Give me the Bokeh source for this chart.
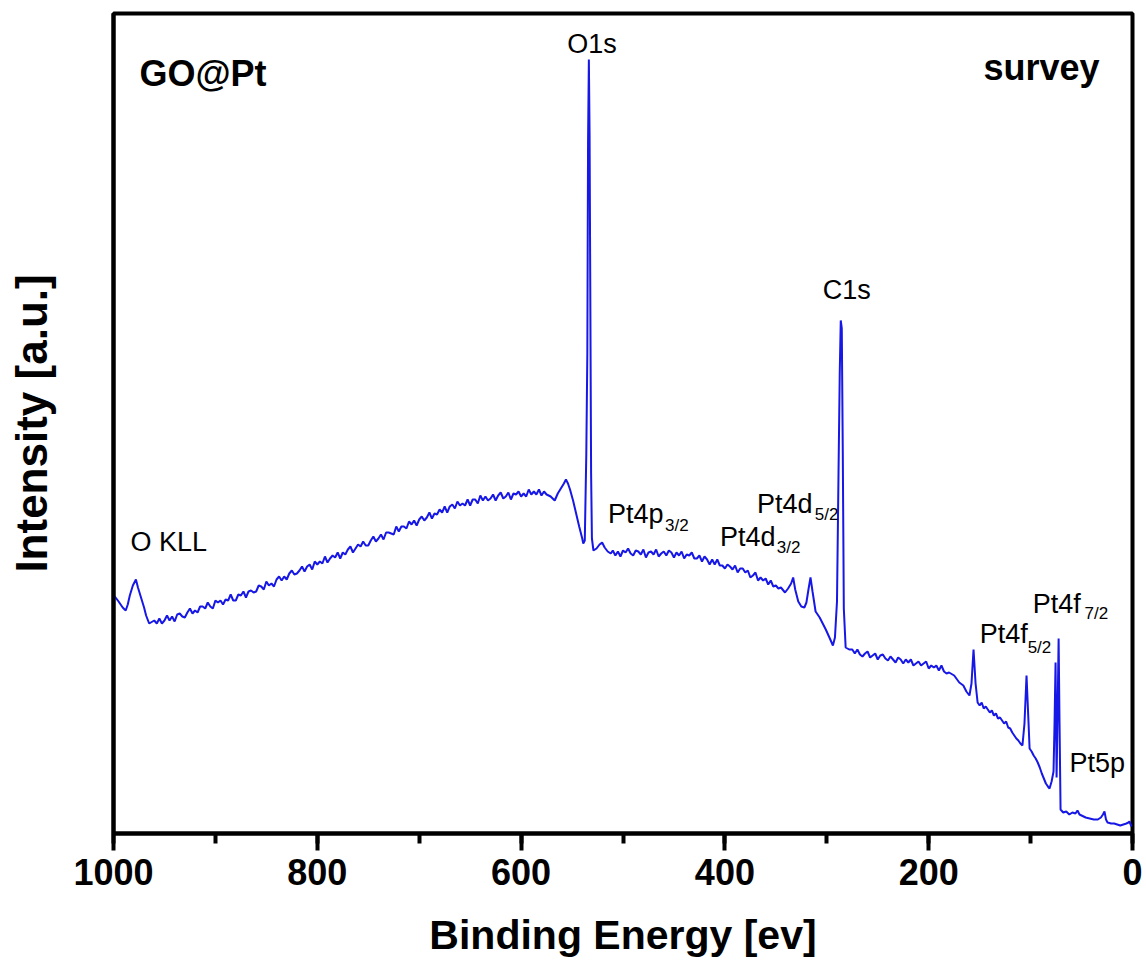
from bokeh.plotting import figure
from bokeh.models import Range1d, SingleIntervalTicker, FixedTicker, Label
from bokeh.embed import file_html
from bokeh.resources import INLINE

# ---- XPS survey spectrum of GO@Pt (binding energy eV, intensity a.u.) ----
be_okll = [1000, 998, 995, 993, 991, 988, 986, 984, 981, 978, 976, 973, 970, 968, 965]
i_okll = [238, 236, 232, 229, 226, 223, 229, 238, 248, 254, 246, 236, 226, 218, 210]

be_slope = [960, 957.5, 955, 952.5, 950, 947.5, 945, 942.5, 940, 937.5,
            935, 932.5, 930, 927.5, 925, 922.5, 920, 917.5, 915, 912.5,
            910, 907.5, 905, 902.5, 900, 897.5, 895, 892.5, 890, 887.5,
            885, 882.5, 880, 877.5, 875, 872.5, 870, 867.5, 865, 862.5,
            860, 857.5, 855, 852.5, 850, 847.5, 845, 842.5, 840, 837.5,
            835, 832.5, 830, 827.5, 825, 822.5, 820, 817.5, 815, 812.5,
            810, 807.5, 805, 802.5, 800, 797.5, 795, 792.5, 790, 787.5,
            785, 782.5, 780, 777.5, 775, 772.5, 770, 767.5, 765, 762.5,
            760, 757.5, 755, 752.5, 750, 747.5, 745, 742.5, 740, 737.5,
            735, 732.5, 730, 727.5, 725, 722.5, 720, 717.5, 715, 712.5,
            710, 707.5, 705, 702.5, 700, 697.5, 695, 692.5, 690, 687.5,
            685, 682.5, 680, 677.5, 675, 672.5, 670, 667.5, 665, 662.5,
            660, 657.5, 655, 652.5, 650, 647.5, 645, 642.5, 640, 637.5,
            635, 632.5, 630, 627.5, 625, 622.5, 620, 617.5, 615, 612.5,
            610, 607.5, 605, 602.5, 600, 597.5, 595, 592.5, 590, 587.5,
            585, 582.5, 580, 577.5, 575]
i_slope = [213, 210, 215, 210, 213, 218, 213, 217, 212, 219,
           220, 217, 216, 221, 225, 220, 223, 221, 227, 227,
           225, 231, 227, 225, 233, 231, 233, 229, 234, 233,
           239, 233, 233, 239, 238, 242, 236, 242, 243, 241,
           242, 248, 247, 244, 252, 248, 250, 247, 254, 257,
           253, 257, 254, 260, 263, 259, 260, 263, 267, 262,
           267, 269, 264, 272, 269, 272, 270, 277, 271, 275,
           278, 276, 281, 275, 281, 279, 284, 287, 281, 285,
           289, 287, 292, 288, 288, 293, 297, 292, 295, 299,
           294, 301, 301, 300, 299, 307, 302, 307, 307, 305,
           312, 309, 313, 308, 314, 317, 313, 316, 321, 315,
           320, 319, 324, 321, 327, 321, 327, 329, 325, 332,
           328, 330, 328, 334, 328, 334, 334, 330, 338, 333,
           337, 333, 335, 339, 333, 338, 341, 335, 337, 341,
           334, 340, 339, 342, 337, 340, 337, 344, 339, 342,
           339, 344, 338, 342, 339]

be_o1s = [571, 567, 564, 561, 558, 556, 554, 552, 549, 546,
          543, 540, 539, 537.5, 536, 535, 534.3, 533.5, 532.8, 532,
          531.3, 530.5, 529, 526, 523, 520.5, 518, 515, 512]
i_o1s = [337, 333, 340, 345, 350, 354, 350, 344, 333, 320,
         307, 295, 290, 293, 380, 480, 690, 774, 700, 520,
         360, 295, 283, 285, 289, 291, 286, 282, 280]

be_flat = [510, 507.5, 505, 502.5, 500, 497.5, 495, 492.5, 490, 487.5,
           485, 482.5, 480, 477.5, 475, 472.5, 470, 467.5, 465, 462.5,
           460, 457.5, 455, 452.5, 450, 447.5, 445, 442.5, 440, 437.5,
           435, 432.5, 430, 427.5, 425, 422.5, 420, 417.5, 415, 412.5,
           410, 407.5, 405, 402.5, 400, 397.5, 395, 392.5, 390, 387.5,
           385, 382.5, 380, 377.5, 375, 372.5, 370, 367.5, 365, 362.5,
           360, 357.5, 355, 352.5, 350, 347.5, 345]
i_flat = [283, 278, 282, 277, 283, 281, 285, 280, 278, 283,
          282, 279, 284, 276, 281, 282, 279, 284, 277, 280,
          282, 278, 283, 281, 276, 281, 278, 282, 275, 279,
          278, 281, 275, 275, 278, 272, 277, 274, 269, 274,
          269, 274, 268, 268, 265, 269, 267, 264, 268, 261,
          265, 265, 261, 263, 256, 258, 261, 253, 256, 253,
          255, 249, 253, 247, 248, 245, 246]

be_c1s = [341, 338, 335, 333, 331, 328, 325, 322, 320, 318,
          316, 314, 311, 307, 304, 301, 297, 294, 292, 290,
          288.5, 287.3, 286.3, 285.3, 284.3, 283.3, 281.5, 278]
i_c1s = [241, 245, 250, 256, 244, 232, 227, 226, 231, 244,
         256, 242, 222, 216, 210, 204, 195, 188, 196, 232,
         360, 460, 513, 505, 380, 225, 186, 184]

be_mid = [275, 272.5, 270, 267.5, 265, 262.5, 260, 257.5, 255, 252.5,
          250, 247.5, 245, 242.5, 240, 237.5, 235, 232.5, 230, 227.5,
          225, 222.5, 220, 217.5, 215, 212.5, 210, 207.5, 205, 202.5,
          200, 197.5, 195, 192.5, 190, 187.5, 185, 182.5, 180]
i_mid = [184, 180, 184, 179, 177, 180, 182, 176, 178, 180,
         174, 178, 179, 175, 173, 177, 174, 171, 176, 174,
         170, 174, 171, 174, 168, 170, 172, 168, 170, 172,
         165, 168, 166, 168, 163, 168, 162, 160, 161]

be_low = [175, 170, 166, 163, 160, 158, 156, 154, 152, 150,
          148, 146, 144, 142, 140, 138, 136, 134, 132, 130,
          128, 126, 124, 122, 120, 118, 116, 114, 112, 110,
          108, 106, 104, 102, 101, 99, 97, 95, 93, 91,
          89, 87, 85, 83, 81.4, 79.4, 77.5, 76.5, 75.5, 74.5,
          73.5, 72.5, 71.6, 70.6, 68, 65, 62, 59, 56, 54,
          52, 50, 46, 42, 38, 34, 31, 29, 27.5, 26,
          24.5, 21, 18, 15, 12, 9, 6, 4, 3, 1]
i_low = [158, 151, 148, 142, 138, 150, 184, 150, 131, 128,
         131, 125, 127, 124, 121, 123, 118, 120, 115, 116,
         113, 110, 112, 106, 105, 101, 98, 95, 93, 90,
         88, 110, 158, 110, 85, 82, 78, 75, 71, 66,
         60, 55, 50, 47, 45, 52, 62, 110, 171, 56,
         120, 195, 110, 24, 21, 22, 19, 21, 20, 23,
         19, 18, 16, 15, 14, 14, 16, 19, 22, 14,
         11, 10, 10, 9, 8, 9, 10, 11, 12, 7]

binding_energy = be_okll + be_slope + be_o1s + be_flat + be_c1s + be_mid + be_low
intensity = i_okll + i_slope + i_o1s + i_flat + i_c1s + i_mid + i_low

x_ticks_interval = 200
x_title = "Binding Energy [ev]"
y_title = "Intensity [a.u.]"

FONT = "Liberation Sans"

p = figure(width=1146, height=974, output_backend="svg", toolbar_location=None,
           x_range=Range1d(1000, 0), y_range=Range1d(0, 820),
           min_border_left=113, min_border_right=14, min_border_top=13,
           min_border_bottom=141)

p.line(binding_energy, intensity, line_color="#1717e6", line_width=2)

p.grid.visible = False
p.background_fill_color = "white"
p.border_fill_color = "white"
p.outline_line_color = "black"
p.outline_line_width = 4
p.outline_line_alpha = 1.0

# x axis
xa = p.xaxis[0]
xa.ticker = SingleIntervalTicker(interval=x_ticks_interval, num_minor_ticks=2)
xa.axis_line_width = 4
xa.axis_line_color = "black"
xa.major_tick_line_width = 4
xa.minor_tick_line_width = 4
xa.major_tick_in = 0
xa.minor_tick_in = 0
xa.major_tick_out = 17
xa.minor_tick_out = 10
xa.major_label_text_font = FONT
xa.major_label_text_font_style = "bold"
xa.major_label_text_font_size = "36px"
xa.major_label_text_color = "black"
xa.major_label_standoff = 8
xa.axis_label = x_title
xa.axis_label_text_font = FONT
xa.axis_label_text_font_style = "bold"
xa.axis_label_text_font_size = "41px"
xa.axis_label_text_color = "black"
xa.axis_label_standoff = 24

# y axis
ya = p.yaxis[0]
ya.ticker = FixedTicker(ticks=[])
ya.axis_line_width = 4
ya.axis_line_color = "black"
ya.major_tick_out = 0
ya.major_tick_in = 0
ya.minor_tick_out = 0
ya.minor_tick_in = 0
ya.major_label_standoff = 0
ya.axis_label = y_title
ya.axis_label_text_font = FONT
ya.axis_label_text_font_style = "bold"
ya.axis_label_text_font_size = "44px"
ya.axis_label_text_color = "black"
ya.axis_label_standoff = 58


def add_label(text, x, y, size="27px", align="left", style="normal"):
    p.add_layout(Label(x=x, y=y, text=text, text_font=FONT, text_font_size=size,
                       text_font_style=style, text_align=align,
                       text_baseline="alphabetic", text_color="black"))


# peak annotations (main text + subscript)
add_label("O KLL", 983.3, 292)
add_label("O1s", 530.4, 790, align="center")
add_label("Pt4p", 514.7, 320)
add_label("3/2", 458.8, 308, size="17px")
add_label("Pt4d", 404.9, 297)
add_label("3/2", 349.0, 286, size="17px")
add_label("Pt4d", 368.6, 330)
add_label("5/2", 311.8, 319, size="17px")
add_label("C1s", 280.4, 544, align="center")
add_label("Pt4f", 150.0, 200)
add_label("5/2", 102.9, 186, size="17px")
add_label("Pt4f", 98.0, 230)
add_label("7/2", 47.0, 220, size="17px")
add_label("Pt5p", 61.8, 71)

# panel texts
add_label("GO@Pt", 974.5, 760, size="36px", style="bold")
add_label("survey", 32.4, 766, size="36px", align="right", style="bold")

open("out.html", "w").write(file_html(p, INLINE))
